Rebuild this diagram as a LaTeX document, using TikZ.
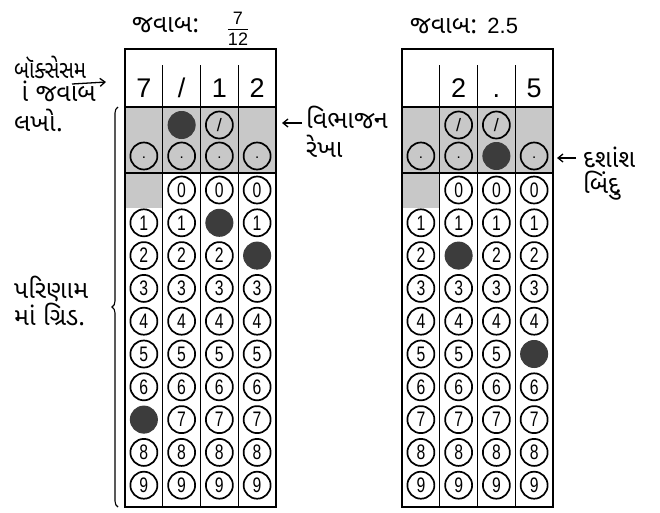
\documentclass[tikz,border=0pt]{standalone}
\usepackage{fontspec}
\setmainfont{Liberation Sans}
\newfontfamily\guj[Script=Gujarati]{Noto Sans Gujarati UI}
\usetikzlibrary{decorations.pathreplacing,arrows.meta}
\definecolor{gridgrey}{HTML}{C8C8C8}
\definecolor{darkdot}{HTML}{3C3C3C}
\tikzset{
  bubble/.style={circle, draw=black, line width=1.7pt, fill=white, minimum size=27pt, inner sep=0pt, font=\fontsize{21}{21}\selectfont},
  greybubble/.style={bubble, fill=gridgrey},
  filled/.style={circle, draw=darkdot, fill=darkdot, line width=1pt, minimum size=27pt, inner sep=0pt},
  headdigit/.style={font=\fontsize{27}{27}\selectfont, inner sep=0pt, anchor=base},
  gujlabel/.style={font=\guj\fontsize{25}{25}\selectfont, inner sep=0pt, anchor=base west},
  outer/.style={line width=1.8pt},
  divider/.style={line width=1.4pt},
  pointer/.style={line width=1.3pt, -{Straight Barb[length=5pt,width=8pt]}},
}
\newcommand\cw{37.75}
\newcommand\narrow[1]{\scalebox{0.75}[1]{#1}}
% #1 prefix, #2 x0, #3 filled condition on \c,\i, #4 filled slash column, #5 filled dot column, #6-#9 header texts
\newcommand\answergrid[9]{%
  \begin{scope}[shift={(#2,0)}]
    \fill[gridgrey] (0,107) rectangle ({4*\cw},173);
    \fill[gridgrey] (0,173) rectangle (\cw,208);
    \draw[divider] (0,107) -- ({4*\cw},107);
    \draw[divider] (0,173) -- ({4*\cw},173);
    \foreach \k in {1,2,3}{\draw[divider] ({\k*\cw},65) -- ({\k*\cw},507);}
    \draw[outer] (0,49) rectangle ({4*\cw},507);
    % header
    \foreach \t [count=\n from 0] in {#6,#7,#8,#9}{
      \node[headdigit] (#1-head-\n) at ({\cw*(\n+0.5)},97) {\t};}
    % slash row
    \foreach \c in {1,2}{
      \pgfmathtruncatemacro\f{\c==#4}
      \ifnum\f=1
        \node[filled] (#1-slash-\c) at ({\cw*(\c+0.5)},125) {};
      \else
        \node[greybubble, font=\fontsize{18}{18}\selectfont] (#1-slash-\c) at ({\cw*(\c+0.5)},125) {/};
      \fi}
    % dot row
    \foreach \c in {0,...,3}{
      \pgfmathtruncatemacro\f{\c==#5}
      \ifnum\f=1
        \node[filled] (#1-dot-\c) at ({\cw*(\c+0.5)},156) {};
      \else
        \node[greybubble, font=\fontsize{15}{15}\selectfont] (#1-dot-\c) at ({\cw*(\c+0.5)},156) {\raisebox{-5pt}{.}};
      \fi}
    % digit rows
    \foreach \i in {0,...,9}{
      \foreach \c in {0,...,3}{
        \pgfmathtruncatemacro\skipit{(\c==0)&&(\i==0)}
        \ifnum\skipit=0
          \pgfmathtruncatemacro\f{#3}
          \ifnum\f=1
            \node[filled] (#1-d-\c-\i) at ({\cw*(\c+0.5)},{190+32.8*\i}) {};
          \else
            \node[bubble] (#1-d-\c-\i) at ({\cw*(\c+0.5)},{190+32.8*\i}) {\narrow{\i}};
          \fi
        \fi}}
  \end{scope}}

\begin{document}
\begin{tikzpicture}[x=1pt,y=-1pt]
\useasboundingbox[fill=white] (0,0) rectangle (660,512);

% titles
\node[gujlabel] (ltitle) at (132,32) {જવાબ:};
\node[font=\fontsize{18}{18}\selectfont, inner sep=0pt] (fracnum) at (238,18) {7};
\node[font=\fontsize{18}{18}\selectfont, inner sep=0pt] (fracden) at (238,39) {12};
\draw[line width=1pt] (fracden.west |- 0,29) -- (fracden.east |- 0,29);
\node[gujlabel] (rtitle) at (410,33) {જવાબ: {\fontspec{Liberation Sans}\fontsize{22}{22}\selectfont 2.5}};

% grids
\answergrid{L}{125}{((\c==0)&&(\i==7))||((\c==2)&&(\i==1))||((\c==3)&&(\i==2))}{1}{-1}{7}{/}{1}{2}
\answergrid{R}{402}{((\c==1)&&(\i==2))||((\c==3)&&(\i==5))}{-1}{2}{}{2}{.}{5}

% left labels
\node[gujlabel] (box1) at (14,78) {\scalebox{0.82}[1]{બૉક્સેસમ}};
\node[gujlabel] (box2) at (14,101) {^^^^00a0ાં જવાબ};
\node[gujlabel] (box3) at (14,131) {લખો.};
\coordinate (boxtail) at (72,84);
\coordinate (boxhead) at (106,82);
\draw[pointer] (boxtail) -- (boxhead);

\node[gujlabel] (grid1) at (14,298) {પરિણામ};
\node[gujlabel] (grid2) at (14,325) {માં ગ્રિડ.};
\coordinate (bracebot) at (118,507);
\coordinate (bracetop) at (118,107);
\draw[line width=1.1pt, decoration={brace, amplitude=6pt}, decorate] (bracebot) -- (bracetop);

% division line label
\node[gujlabel] (div1) at (306,128) {વિભાજન};
\node[gujlabel] (div2) at (306,157) {રેખા};
\coordinate (divtail) at (302,123);
\coordinate (divhead) at (282,123);
\draw[pointer] (divtail) -- (divhead);

% decimal point label
\node[gujlabel] (dec1) at (583,167) {દશાંશ};
\node[gujlabel] (dec2) at (583,193) {બિંદુ};
\coordinate (dectail) at (576,158);
\coordinate (dechead) at (557,158);
\draw[pointer] (dectail) -- (dechead);
\end{tikzpicture}
\end{document}
